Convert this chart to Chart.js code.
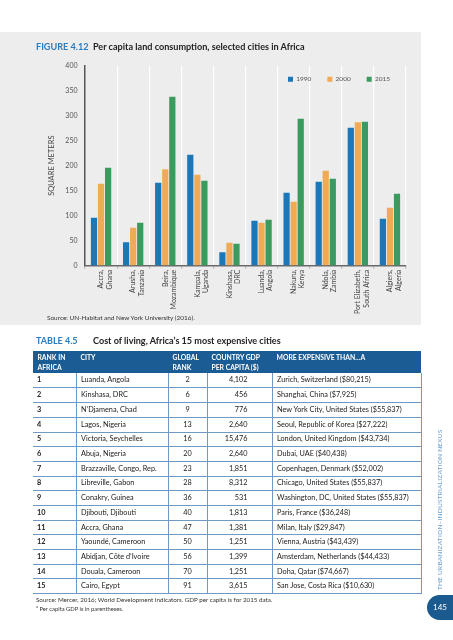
<!DOCTYPE html>
<html><head><meta charset="utf-8">
<script src="https://cdn.jsdelivr.net/npm/chart.js@4/dist/chart.umd.min.js"></script>
<style>
html,body{margin:0;padding:0;background:#fff;}
body{width:453px;height:640px;position:relative;overflow:hidden;font-family:Lato,'Open Sans',sans-serif;color:#222;}
#panel{position:absolute;left:0;top:32px;width:421px;height:293px;background:#ededed;}
#cv{position:absolute;left:0;top:32px;}
.abs{position:absolute;white-space:nowrap;}
.fit{display:inline-block;white-space:nowrap;}
#ftitle{left:36px;top:41px;font-size:9px;font-weight:700;line-height:12px;}
.blue{color:#2b7cbf;}
#fsrc{left:47px;top:313px;font-size:7px;line-height:9px;color:#333;}
#ttitle1{left:36px;top:335px;font-size:9px;font-weight:700;line-height:11px;}
#ttitle2{left:93px;top:335px;font-size:9px;font-weight:700;line-height:11px;}
#tbl{position:absolute;left:33px;top:351px;width:388px;border-collapse:collapse;table-layout:fixed;font-size:7.3px;color:#222;}
#tbl th{background:#1c5c95;color:#fff;font-weight:700;font-size:6.8px;text-align:left;vertical-align:top;padding:1px 0 0 4.5px;line-height:10px;height:22.3px;box-sizing:border-box;white-space:nowrap;}
#tbl td{height:14.7px;box-sizing:border-box;padding:0 0 0 4.5px;border-bottom:1.2px solid #6f9ac6;border-left:1.2px solid #6f9ac6;white-space:nowrap;line-height:12px;}
#tbl td:first-child{border-left:none;font-weight:700;padding-left:4px;}
#tbl td:last-child{border-right:1.2px solid #6f9ac6;}
#tbl td.c{text-align:center;padding-left:0;}
#tbl td.r{text-align:right;padding-right:24px;padding-left:0;}
#tsrc{left:36px;top:596px;font-size:5.8px;line-height:7px;color:#333;}
#side{left:359px;top:505px;width:160px;height:10px;text-align:center;transform:rotate(-90deg);transform-origin:50% 50%;font-size:7px;line-height:10px;color:#6c9fcf;letter-spacing:0.2px;}
#pnum{position:absolute;left:427px;top:595px;width:40px;height:25px;border-radius:12.5px;background:#1b5a8f;}
#pnumt{left:433px;top:601px;font-size:8px;line-height:12px;color:#fff;}
</style>
</head>
<body>
<div id="panel"></div>
<canvas id="cv" width="421" height="293"></canvas>
<div id="ftitle" class="abs"><span class="fit" id="ftitleIn"><span class="blue">FIGURE 4.12</span>&nbsp; Per capita land consumption, selected cities in Africa</span></div>
<div id="fsrc" class="abs"><span class="fit" id="fsrcIn">Source: UN-Habitat and New York University (2016).</span></div>
<div id="ttitle1" class="abs blue"><span class="fit" id="tt1In">TABLE 4.5</span></div>
<div id="ttitle2" class="abs"><span class="fit" id="tt2In">Cost of living, Africa’s 15 most expensive cities</span></div>
<table id="tbl"></table>
<div id="tsrc" class="abs"><span class="fit" id="tsrcIn">Source: Mercer, 2016; World Development Indicators. GDP per capita is for 2015 data.</span><br><span><sup style="font-size:4px">a</sup> Per capita GDP is in parentheses.</span></div>
<div id="side" class="abs"><span class="fit" id="sideIn">THE URBANIZATION–INDUSTRIALIZATION NEXUS</span></div>
<div id="pnum"></div>
<div id="pnumt" class="abs">145</div>
<script>
// ---- Chart data ----
const cities = [['Accra,','Ghana'],['Arusha,','Tanzania'],['Beira,','Mozambique'],['Kampala,','Uganda'],['Kinshasa,','DRC'],['Luanda,','Angola'],['Nakuru,','Kenya'],['Ndola,','Zambia'],['Port Elizabeth,','South Africa'],['Algiers,','Algeria']];
const years = ['1990','2000','2015'];
const values1990 = [96,47,166,222,27,90,146,168,276,94];
const values2000 = [164,76,193,182,46,86,128,190,287,116];
const values2015 = [196,86,338,170,44,92,294,174,288,144];
const yTickValues = [0,50,100,150,200,250,300,350,400];

// ---- Table data ----
const rankInAfrica = [1,2,3,4,5,6,7,8,9,10,11,12,13,14,15];
const tableCities = ['Luanda, Angola','Kinshasa, DRC','N’Djamena, Chad','Lagos, Nigeria','Victoria, Seychelles','Abuja, Nigeria','Brazzaville, Congo, Rep.','Libreville, Gabon','Conakry, Guinea','Djibouti, Djibouti','Accra, Ghana','Yaoundé, Cameroon','Abidjan, Côte d’Ivoire','Douala, Cameroon','Cairo, Egypt'];
const globalRank = [2,6,9,13,16,20,23,28,36,40,47,50,56,70,91];
const gdpPerCapita = ['4,102','456','776','2,640','15,476','2,640','1,851','8,312','531','1,813','1,381','1,251','1,399','1,251','3,615'];
const moreExpensiveThan = ['Zurich, Switzerland ($80,215)','Shanghai, China ($7,925)','New York City, United States ($55,837)','Seoul, Republic of Korea ($27,222)','London, United Kingdom ($43,734)','Dubai, UAE ($40,438)','Copenhagen, Denmark ($52,002)','Chicago, United States ($55,837)','Washington, DC, United States ($55,837)','Paris, France ($36,248)','Milan, Italy ($29,847)','Vienna, Austria ($43,439)','Amsterdam, Netherlands ($44,433)','Doha, Qatar ($74,667)','San Jose, Costa Rica ($10,630)'];
const tableHeaders = ['RANK IN<br>AFRICA','CITY','GLOBAL<br>RANK','COUNTRY GDP<br>PER CAPITA ($)','MORE EXPENSIVE THAN…A'];

// build table
(function(){
  const widths = [43,92,39,65,149];
  let h = '<colgroup>' + widths.map(w=>'<col style="width:'+w+'px">').join('') + '</colgroup>';
  h += '<tr>' + tableHeaders.map(t=>'<th>'+t+'</th>').join('') + '</tr>';
  for (let i=0;i<rankInAfrica.length;i++){
    h += '<tr><td>'+rankInAfrica[i]+'</td><td>'+tableCities[i]+'</td><td class="c">'+globalRank[i]+'</td><td class="r">'+gdpPerCapita[i]+'</td><td>'+moreExpensiveThan[i]+'</td></tr>';
  }
  document.getElementById('tbl').innerHTML = h;
})();

// fit text widths (offsetWidth ignores transforms)
function fitW(id, w){
  const el = document.getElementById(id);
  const fs = parseFloat(getComputedStyle(el).fontSize);
  const cur = el.offsetWidth;
  if (cur>0) el.style.fontSize = (fs*w/cur)+'px';
}
fitW('ftitleIn', 269);
fitW('fsrcIn', 148);
fitW('tt1In', 42);
fitW('tt2In', 188);
fitW('tsrcIn', 237);
fitW('sideIn', 160);

// ---- Chart ----
Chart.defaults.font.family = 'Lato, "Open Sans", sans-serif';
const legendInArea = {
  id: 'legendInArea',
  afterInit(chart){
    const lg = chart.legend;
    if (!lg) return;
    const orig = lg.fit.bind(lg);
    lg.fit = function(){ orig(); this.height = 0; };
  },
  afterLayout(chart){
    const lg = chart.legend;
    if (!lg) return;
    lg.top = 28;
    lg.bottom = 60;
    lg.height = 32;
  }
};
new Chart(document.getElementById('cv'), {
  type: 'bar',
  data: {
    labels: cities,
    datasets: [
      {label: years[0], data: values1990, backgroundColor: '#1c77b8'},
      {label: years[1], data: values2000, backgroundColor: '#f0aa56'},
      {label: years[2], data: values2015, backgroundColor: '#3b9a5d'}
    ]
  },
  options: {
    responsive: false,
    animation: false,
    devicePixelRatio: 1,
    layout: {padding: {top: 33.7, right: 15, left: 0, bottom: 0}},
    datasets: {bar: {categoryPercentage: 0.66, barPercentage: 0.88}},
    plugins: {
      legend: {
        position: 'top', align: 'end',
        labels: {boxWidth: 5, boxHeight: 5, padding: 16, color: '#555', font: {size: 6.5}}
      },
      tooltip: {enabled: false}
    },
    scales: {
      x: {
        afterFit(s){ s.height = 293 - 233.7; },
        grid: {color: '#ffffff', lineWidth: 1.2, offset: true, drawTicks: true, tickLength: 3, tickColor: '#c8b4b4'},
        border: {display: true, color: '#6a6a6a', width: 1.5},
        ticks: {minRotation: 90, maxRotation: 90, autoSkip: false, padding: 1, color: '#444', font: {size: 7}}
      },
      y: {
        min: 0, max: 400,
        afterFit(s){ s.width = 85; },
        afterBuildTicks(s){ s.ticks = yTickValues.map(v=>({value:v})); },
        grid: {display: true, color: 'rgba(0,0,0,0)', drawTicks: false},
        border: {display: true, color: '#555', width: 1.5},
        ticks: {padding: 7.5, color: '#555', font: {size: 7}},
        title: {display: true, text: 'SQUARE METERS', color: '#444', font: {size: 7.5}, padding: {top: 47.5, bottom: 0}}
      }
    }
  },
  plugins: [legendInArea]
});
</script>
</body></html>
